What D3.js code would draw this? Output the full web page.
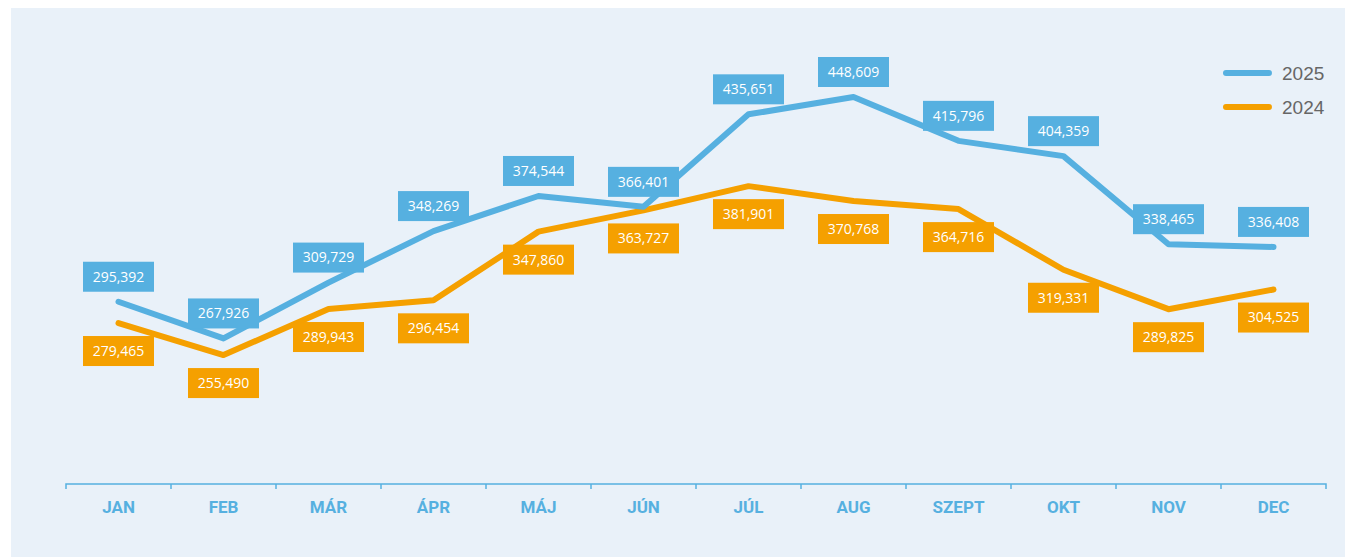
<!DOCTYPE html>
<html>
<head>
<meta charset="utf-8">
<script src="https://cdn.jsdelivr.net/npm/d3@7"></script>
<style>
  body { margin: 0; background: #fff; }
  #chart { position: relative; }
</style>
</head>
<body>
<div id="chart"></div>
<script>
var months = ["JAN", "FEB", "MÁR", "ÁPR", "MÁJ", "JÚN", "JÚL", "AUG", "SZEPT", "OKT", "NOV", "DEC"];
var values2025 = [295392, 267926, 309729, 348269, 374544, 366401, 435651, 448609, 415796, 404359, 338465, 336408];
var values2024 = [279465, 255490, 289943, 296454, 347860, 363727, 381901, 370768, 364716, 319331, 289825, 304525];
var seriesNames = ["2025", "2024"];

var fullWidth = 1345, fullHeight = 557;
var margin = {top: 97, right: 19, bottom: 73, left: 66};
var width = fullWidth - margin.left - margin.right;
var height = fullHeight - margin.top - margin.bottom;

var blue = "#56b0e0";
var orange = "#f5a000";

var svg = d3.select("#chart").append("svg")
    .attr("width", fullWidth)
    .attr("height", fullHeight)
    .style("display", "block");

// panel background
svg.append("rect")
    .attr("x", 11).attr("y", 8)
    .attr("width", fullWidth - 11).attr("height", fullHeight - 8)
    .attr("fill", "#e9f1f9");

var g = svg.append("g")
    .attr("transform", "translate(" + margin.left + "," + margin.top + ")");

var x = d3.scaleBand()
    .domain(months)
    .range([0, width]);

var y = d3.scaleLinear()
    .domain([159000, d3.max(values2025)])
    .range([height, 0]);

// x axis
var xAxis = g.append("g")
    .attr("transform", "translate(0," + height + ")")
    .call(d3.axisBottom(x).tickSize(0).tickPadding(17));

xAxis.select(".domain")
    .attr("stroke", blue)
    .attr("stroke-width", 1.5)
    .attr("d", "M0,5V0H" + width + "V5");

xAxis.selectAll(".tick text")
    .attr("fill", blue)
    .style("font-family", "Roboto, sans-serif")
    .style("font-weight", "700")
    .style("font-size", "17px");

// band boundary ticks
g.append("g").selectAll("line")
    .data(months.slice(1))
    .enter().append("line")
    .attr("x1", function(d) { return x(d); })
    .attr("x2", function(d) { return x(d); })
    .attr("y1", height)
    .attr("y2", height + 5)
    .attr("stroke", blue)
    .attr("stroke-width", 1.5);

var line = d3.line()
    .x(function(d, i) { return x(months[i]) + x.bandwidth() / 2; })
    .y(function(d) { return y(d); });

var series = [
  {name: "2024", values: values2024, color: orange, dy: 28},
  {name: "2025", values: values2025, color: blue, dy: -25}
];

series.forEach(function(s) {
  g.append("path")
      .datum(s.values)
      .attr("fill", "none")
      .attr("stroke", s.color)
      .attr("stroke-width", 6)
      .attr("stroke-linejoin", "round")
      .attr("stroke-linecap", "round")
      .attr("d", line);
});

var fmt = d3.format(",");
var boxW = 71, boxH = 30;

series.forEach(function(s) {
  var lab = g.append("g").selectAll("g")
      .data(s.values)
      .enter().append("g")
      .attr("transform", function(d, i) {
        var cx = x(months[i]) + x.bandwidth() / 2;
        var cy = y(d) + s.dy;
        return "translate(" + cx + "," + cy + ")";
      });

  lab.append("rect")
      .attr("x", -boxW / 2)
      .attr("y", -boxH / 2)
      .attr("width", boxW)
      .attr("height", boxH)
      .attr("fill", s.color);

  lab.append("text")
      .attr("text-anchor", "middle")
      .attr("dy", "0.35em")
      .attr("fill", "#fff")
      .style("font-family", "'Open Sans', sans-serif")
      .style("font-size", "14px")
      .text(function(d) { return fmt(d); });
});

// legend
var legend = svg.append("g").selectAll("g")
    .data(seriesNames)
    .enter().append("g")
    .attr("transform", function(d, i) { return "translate(1226," + (73 + i * 34) + ")"; });

legend.append("line")
    .attr("x1", 0).attr("x2", 43)
    .attr("stroke", function(d, i) { return i === 0 ? blue : orange; })
    .attr("stroke-width", 6)
    .attr("stroke-linecap", "round");

legend.append("text")
    .attr("x", 56)
    .attr("dy", "0.35em")
    .attr("fill", "#666")
    .style("font-family", "'Liberation Sans', Arial, sans-serif")
    .style("font-size", "19px")
    .text(function(d) { return d; });
</script>
</body>
</html>
